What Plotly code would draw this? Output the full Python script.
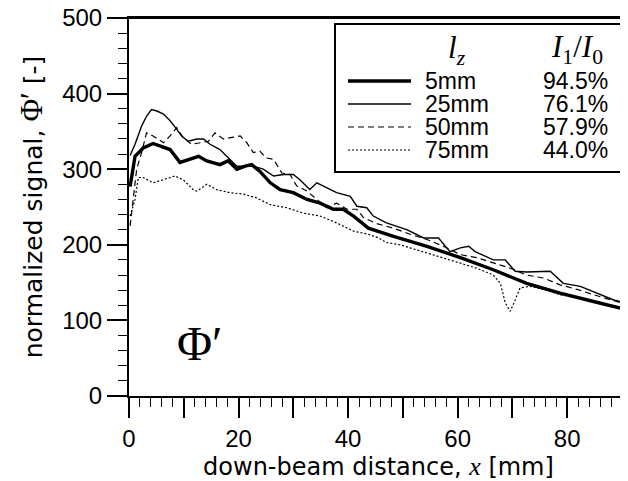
import plotly.graph_objects as go

# ---- data ----
x_5mm = [0.2, 1.1, 2.6, 4.4, 6.0, 7.5, 9.3, 11.1, 12.7, 14.2, 16.6, 18.1, 19.7, 21.2, 22.4, 23.9,
         25.8, 27.6, 30.0, 32.5, 34.9, 37.3, 39.1, 41.0, 43.7, 48.3, 54.4, 60.5, 66.5, 72.6,
         78.7, 84.8, 90.9]
y_5mm = [277, 317, 328, 334, 330, 326, 309, 313, 317, 311, 306, 311, 300, 304, 306, 297,
         282, 273, 269, 260, 255, 247, 247, 238, 222, 211, 198, 183, 167, 149,
         136, 125, 114]

x_25mm = [0.2, 1.1, 2.3, 3.2, 4.1, 5.1, 6.3, 7.5, 8.7, 9.6, 10.8, 12.4, 13.6, 14.8, 16.6, 18.4,
          19.7, 21.2, 22.7, 24.5, 26.4, 28.2, 30.0, 31.2, 33.0, 34.3, 36.1, 37.9, 40.4, 41.6,
          43.4, 44.6, 47.0, 50.7, 53.8, 56.5, 58.6, 60.5, 62.0, 63.2, 66.5, 68.7, 70.5, 72.6,
          76.9, 79.3, 82.4, 86.0, 88.5, 90.9]
y_25mm = [318, 333, 357, 370, 379, 377, 373, 364, 353, 344, 337, 340, 340, 333, 326, 313,
          304, 304, 304, 300, 291, 293, 293, 286, 273, 282, 275, 269, 264, 251,
          249, 238, 229, 220, 209, 209, 191, 196, 198, 191, 180, 180, 165, 164,
          165, 149, 145, 134, 127, 123]

x_50mm = [0.2, 0.8, 1.4, 2.3, 3.2, 4.4, 6.3, 7.5, 8.7, 9.9, 11.4, 13.0, 14.5, 15.7, 17.2, 18.8,
          20.3, 21.5, 22.7, 23.9, 25.0, 26.4, 27.9, 29.4, 30.6, 32.5, 34.3, 36.1, 37.9, 39.8,
          41.6, 42.8, 45.2, 48.3, 51.3, 54.4, 57.4, 60.5, 63.5, 66.5, 69.6, 72.6, 75.7, 78.7,
          81.8, 84.8, 87.9, 90.9]
y_50mm = [225, 260, 300, 322, 348, 344, 335, 344, 355, 342, 333, 335, 337, 348, 340, 342,
          344, 335, 322, 324, 315, 313, 295, 293, 278, 271, 260, 249, 255, 247,
          247, 236, 228, 222, 214, 207, 198, 187, 183, 176, 169, 160, 156, 147,
          141, 134, 127, 121]

x_75mm = [0.2, 1.1, 1.7, 2.6, 4.4, 6.3, 8.4, 9.9, 11.7, 12.4, 14.2, 16.0, 18.4, 20.9, 23.3, 25.8,
          28.8, 31.8, 34.9, 37.9, 41.0, 43.7, 45.6, 47.0, 49.5, 51.3, 54.4, 57.4, 60.5, 63.5,
          66.5, 67.8, 68.7, 69.6, 70.5, 71.4, 73.2, 75.7, 78.7, 81.8, 84.8, 87.9, 90.9]
y_75mm = [238, 260, 289, 289, 282, 286, 291, 286, 273, 271, 280, 273, 269, 267, 262, 253,
          249, 242, 238, 229, 218, 214, 209, 203, 200, 196, 189, 183, 176, 169,
          160, 149, 123, 112, 127, 143, 145, 141, 134, 130, 125, 118, 116]

lz_labels = ["5mm", "25mm", "50mm", "75mm"]
ratio_labels = ["94.5%", "76.1%", "57.9%", "44.0%"]

# ---- styles ----
styles = [dict(width=3.4, dash="solid"),
          dict(width=1.4, dash="solid"),
          dict(width=1.2, dash="6px,4px"),
          dict(width=1.2, dash="2px,2px")]

series = [(x_5mm, y_5mm), (x_25mm, y_25mm), (x_50mm, y_50mm), (x_75mm, y_75mm)]

# page body has an 8px margin in the browser
OFF = 8
W, H = 628 - OFF, 481 - OFF
# plot area in screen pixels
SL, ST, SR, SB = 129, 18, 628, 396
ML, MT = SL - OFF, ST - OFF
MR, MB = W - (SR - OFF), H - (SB - OFF)
PW, PH = SR - SL, SB - ST


def px(x):
    return (x - SL) / PW


def py(y):
    return (SB - y) / PH


fig = go.Figure()
for (xs, ys), st, name in zip(series, styles, lz_labels):
    fig.add_trace(go.Scatter(x=xs, y=ys, mode="lines", name=name, showlegend=False,
                             line=dict(color="black", width=st["width"], dash=st["dash"])))

SANS = "Liberation Sans, Arial, sans-serif"
DSANS = "DejaVu Sans, Verdana, sans-serif"
SERIF = "Liberation Serif, Times New Roman, serif"

shapes = []
annotations = []

# top frame line
shapes.append(dict(type="line", xref="paper", yref="paper", x0=0, x1=1, y0=1, y1=1,
                   line=dict(color="black", width=2), layer="above"))
# legend box
shapes.append(dict(type="rect", xref="paper", yref="paper",
                   x0=px(335), x1=px(622), y0=py(24), y1=py(172),
                   line=dict(color="black", width=2), fillcolor="white", layer="above"))
row_y = [81, 104, 127, 150]
for i, (lab, rat, st) in enumerate(zip(lz_labels, ratio_labels, styles)):
    shapes.append(dict(type="line", xref="paper", yref="paper",
                       x0=px(348), x1=px(411), y0=py(row_y[i]), y1=py(row_y[i]),
                       line=dict(color="black", width=st["width"], dash=st["dash"]),
                       layer="above"))
    annotations.append(dict(xref="paper", yref="paper", x=px(423), y=py(row_y[i]),
                            text=lab, showarrow=False, xanchor="left", yanchor="middle",
                            font=dict(family=SANS, size=23, color="black")))
    annotations.append(dict(xref="paper", yref="paper", x=px(610), y=py(row_y[i]),
                            text=rat, showarrow=False, xanchor="right", yanchor="middle",
                            font=dict(family=SANS, size=23, color="black")))
annotations.append(dict(xref="paper", yref="paper", x=px(457), y=py(50),
                        text="<i>l</i><sub><i>z</i></sub>", showarrow=False,
                        xanchor="center", yanchor="middle",
                        font=dict(family=SERIF, size=31, color="black")))
annotations.append(dict(xref="paper", yref="paper", x=px(577), y=py(49),
                        text="<i>I</i><sub>1</sub>/<i>I</i><sub>0</sub>", showarrow=False,
                        xanchor="center", yanchor="middle",
                        font=dict(family=SERIF, size=31, color="black")))
# Phi' label
annotations.append(dict(xref="paper", yref="paper", x=px(200), y=py(343),
                        text="Φ′", showarrow=False, xanchor="center", yanchor="middle",
                        font=dict(family=SERIF, size=48, color="black")))

fig.update_layout(
    width=W, height=H,
    margin=dict(l=ML, r=MR, t=MT, b=MB, pad=0),
    paper_bgcolor="white", plot_bgcolor="white",
    shapes=shapes, annotations=annotations,
    showlegend=False,
    xaxis=dict(range=[0, 91.1], tickmode="linear", tick0=0, dtick=10, ticklabelstep=2,
               ticks="outside", ticklen=20, tickwidth=1.5, tickcolor="black",
               minor=dict(tickmode="linear", tick0=0, dtick=2, ticks="outside", ticklen=9,
                          tickwidth=1.2, tickcolor="black"),
               showline=True, linecolor="black", linewidth=2, mirror=True,
               showgrid=False, zeroline=False, automargin=False,
               ticklabeloverflow="allow",
               tickfont=dict(family=SANS, size=24, color="black"),
               title=dict(text="down-beam distance, <span style=\"font-family:Liberation Serif;font-size:26px\"><i>x</i></span> [mm]",
                          font=dict(family=DSANS, size=24, color="black"), standoff=2)),
    yaxis=dict(range=[0, 500], tickmode="linear", tick0=0, dtick=100,
               ticks="outside", ticklen=20, tickwidth=1.5, tickcolor="black",
               minor=dict(tickmode="linear", tick0=0, dtick=20, ticks="outside", ticklen=9,
                          tickwidth=1.2, tickcolor="black"),
               showline=True, linecolor="black", linewidth=2, mirror=False,
               showgrid=False, zeroline=False, automargin=False,
               ticklabeloverflow="allow",
               tickfont=dict(family=SANS, size=24, color="black"),
               title=dict(text="normalized signal, <span style=\"font-family:Liberation Serif;font-size:31px\">Φ′</span> [-]",
                          font=dict(family=DSANS, size=25, color="black"), standoff=12)),
)

fig.write_html("out.html")
